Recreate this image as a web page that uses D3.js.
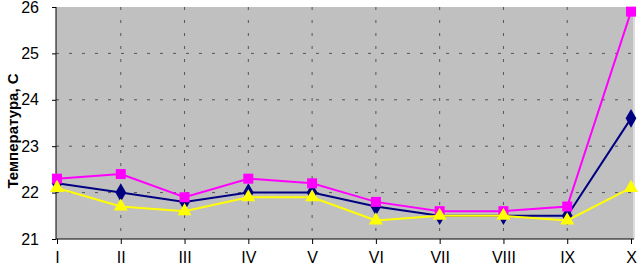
<!DOCTYPE html>
<html>
<head>
<meta charset="utf-8">
<script src="https://cdn.jsdelivr.net/npm/d3@7"></script>
<style>
body { margin: 0; background: #fff; }
svg { display: block; font-family: Arial, "Liberation Sans", sans-serif; }
</style>
</head>
<body>
<svg id="chart" width="638" height="268"></svg>
<script>
// data
var categories = ["I", "II", "III", "IV", "V", "VI", "VII", "VIII", "IX", "X"]
var navyValues = [22.2, 22.0, 21.8, 22.0, 22.0, 21.7, 21.5, 21.5, 21.5, 23.6]
var pinkValues = [22.3, 22.4, 21.9, 22.3, 22.2, 21.8, 21.6, 21.6, 21.7, 25.9]
var yellowValues = [22.1, 21.7, 21.6, 21.9, 21.9, 21.4, 21.5, 21.5, 21.4, 22.1]
var yTicks = [21, 22, 23, 24, 25, 26]

var series = [
    { values: navyValues, color: "#000080", marker: d3.symbolDiamond, size: 100 },
    { values: pinkValues, color: "#ff00ff", marker: d3.symbolSquare, size: 100 },
    { values: yellowValues, color: "#ffff00", marker: d3.symbolTriangle, size: 85 }
]

var plotLeft = 56, plotRight = 632, plotTop = 7, plotBottom = 239

var svg = d3.select("#chart")

var x = d3.scalePoint()
    .domain(categories)
    .range([plotLeft + 1, plotRight - 1])

var y = d3.scaleLinear()
    .domain([21, 26])
    .range([plotBottom, plotTop])

// plot area
svg.append("rect")
    .attr("x", plotLeft)
    .attr("y", plotTop)
    .attr("width", plotRight - plotLeft + 2)
    .attr("height", plotBottom - plotTop)
    .style("fill", "#c0c0c0")

svg.append("line")
    .attr("x1", plotRight + 2).attr("x2", plotRight + 2)
    .attr("y1", plotTop).attr("y2", plotBottom)
    .style("stroke", "#dcdcdc")
    .style("stroke-width", 2)

// grid
svg.append("g")
    .selectAll("line")
    .data(yTicks.slice(1, -1))
    .enter().append("line")
    .attr("x1", plotLeft).attr("x2", plotRight)
    .attr("y1", function(d) { return y(d) })
    .attr("y2", function(d) { return y(d) })
    .style("stroke", "#555")
    .style("stroke-dasharray", "3,10")

svg.append("g")
    .selectAll("line")
    .data(categories.slice(1, -1))
    .enter().append("line")
    .attr("x1", function(d) { return x(d) })
    .attr("x2", function(d) { return x(d) })
    .attr("y1", plotTop).attr("y2", plotBottom)
    .style("stroke", "#555")
    .style("stroke-dasharray", "3,10")

// axes
var yAxis = d3.axisLeft(y)
    .tickValues(yTicks)
    .tickFormat(d3.format("d"))
    .tickSize(4)
    .tickPadding(13)

var gy = svg.append("g")
    .attr("transform", "translate(" + plotLeft + ",0)")
    .call(yAxis)
gy.selectAll("text").style("font-size", "16px").style("fill", "#000")
gy.selectAll("line, path").style("stroke", "#000")
gy.select(".domain").remove()
gy.append("line")
    .attr("y1", plotTop).attr("y2", plotBottom)
    .style("stroke", "#000")

var xAxis = d3.axisBottom(x)
    .tickSize(5)
    .tickPadding(8)

var gx = svg.append("g")
    .attr("transform", "translate(0," + plotBottom + ")")
    .call(xAxis)
gx.selectAll("text").style("font-size", "16px").style("fill", "#000")
gx.selectAll("line").style("stroke", "#000")
gx.select(".domain").attr("d", "M" + plotLeft + ",0H" + (plotRight + 2)).style("stroke", "#000")

svg.append("text")
    .attr("transform", "translate(18," + ((plotTop + plotBottom) / 2 + 8) + ") rotate(-90)")
    .attr("text-anchor", "middle")
    .style("font-size", "15px")
    .style("font-weight", "bold")
    .text("Температура,  С")

// lines and markers
var line = d3.line()
    .x(function(d, i) { return x(categories[i]) })
    .y(function(d) { return y(d) })

series.forEach(function(s) {
    var g = svg.append("g")
    g.append("path")
        .datum(s.values)
        .attr("d", line)
        .style("fill", "none")
        .style("stroke", s.color)
        .style("stroke-width", 2)

    g.selectAll("path.mark")
        .data(s.values)
        .enter().append("path")
        .attr("class", "mark")
        .attr("transform", function(d, i) {
            return "translate(" + x(categories[i]) + "," + y(d) + ")"
        })
        .attr("d", d3.symbol().type(s.marker).size(s.size))
        .style("fill", s.color)
})
</script>
</body>
</html>
